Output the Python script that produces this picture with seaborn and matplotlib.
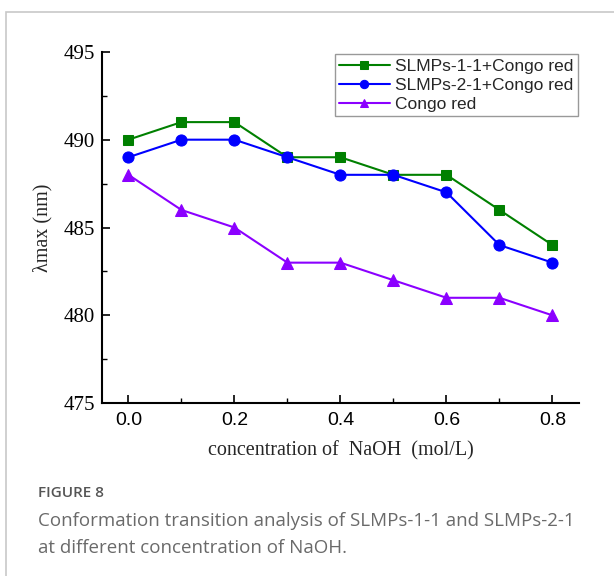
import pandas as pd
import numpy as np
import matplotlib.pyplot as plt
import seaborn as sns
from matplotlib.ticker import FixedLocator
from matplotlib.patches import Rectangle

# Data
naoh = [0.0, 0.1, 0.2, 0.3, 0.4, 0.5, 0.6, 0.7, 0.8]
slmps_1_1 = [490, 491, 491, 489, 489, 488, 488, 486, 484]
slmps_2_1 = [489, 490, 490, 489, 488, 488, 487, 484, 483]
congo_red = [488, 486, 485, 483, 483, 482, 481, 481, 480]

series = [
    ("SLMPs-1-1+Congo red", slmps_1_1, "#008000", "s", 7),
    ("SLMPs-2-1+Congo red", slmps_2_1, "#0000FF", "o", 8),
    ("Congo red", congo_red, "#8B00FF", "^", 8),
]

sns.set_style("ticks")

fig = plt.figure(figsize=(6.14, 5.76), dpi=100)
ax = fig.add_axes([0.166, 0.300, 0.777, 0.610])

for label, vals, color, marker, ms in series:
    df = pd.DataFrame({"x": naoh, "y": vals})
    sns.lineplot(data=df, x="x", y="y", ax=ax, color=color, marker=marker,
                 markersize=ms, markeredgecolor=color, linewidth=1.5, label=label)

ax.set_xlim(-0.05, 0.85)
ax.set_ylim(475, 495)
ax.xaxis.set_major_locator(FixedLocator([0.0, 0.2, 0.4, 0.6, 0.8]))
ax.xaxis.set_minor_locator(FixedLocator([0.1, 0.3, 0.5, 0.7]))
ax.yaxis.set_major_locator(FixedLocator([475, 480, 485, 490, 495]))
ax.yaxis.set_minor_locator(FixedLocator([477.5, 482.5, 487.5, 492.5]))
ax.xaxis.set_major_formatter(plt.FormatStrFormatter("%.1f"))
ax.yaxis.set_major_formatter(plt.FormatStrFormatter("%d"))

ax.tick_params(which="major", direction="in", length=6, width=1.2, color="black",
               labelcolor="black")
ax.tick_params(which="minor", direction="in", length=3.5, width=1.0, color="black")
ax.tick_params(axis="x", which="major", pad=6, labelsize=14,
               labelfontfamily="Liberation Sans")
ax.tick_params(axis="y", which="major", pad=5, labelsize=15,
               labelfontfamily="Liberation Serif")

for s in ["top", "right"]:
    ax.spines[s].set_visible(False)
for s in ["left", "bottom"]:
    ax.spines[s].set_linewidth(1.5)
    ax.spines[s].set_color("black")

ax.set_xlabel("concentration of  NaOH  (mol/L)", family="Liberation Serif", fontsize=14.5, labelpad=9)
ax.set_ylabel("λmax (nm)", family="Liberation Serif", fontsize=14.5, labelpad=8)

leg = ax.legend(loc="upper right", bbox_to_anchor=(0.997, 0.993), borderaxespad=0,
                frameon=True, fancybox=False, edgecolor="#808080",
                prop={"family": "Liberation Sans", "size": 12.5},
                handlelength=2.9, handletextpad=0.3, labelspacing=0.22,
                borderpad=0.25, markerscale=0.75)
leg.get_frame().set_linewidth(1.0)

# Outer panel border (open to the right and bottom)
fig.patches.append(Rectangle((6 / 614, -0.1), 1.2, 1 - 12 / 576 + 0.1,
                             transform=fig.transFigure, fill=False,
                             edgecolor="#c8c8c8", linewidth=1.2))

fig.text(38 / 614, 1 - 493 / 576, "FIGURE 8", family="Open Sans", fontsize=11,
         color="#555555", va="center", ha="left", weight="semibold")
fig.text(38 / 614, 1 - 521 / 576, "Conformation transition analysis of SLMPs-1-1 and SLMPs-2-1",
         family="Open Sans", fontsize=13.5, color="#6a6a6a", va="center", ha="left")
fig.text(38 / 614, 1 - 548 / 576, "at different concentration of NaOH.",
         family="Open Sans", fontsize=13.5, color="#6a6a6a", va="center", ha="left")

fig.savefig("out.png", dpi=100)
